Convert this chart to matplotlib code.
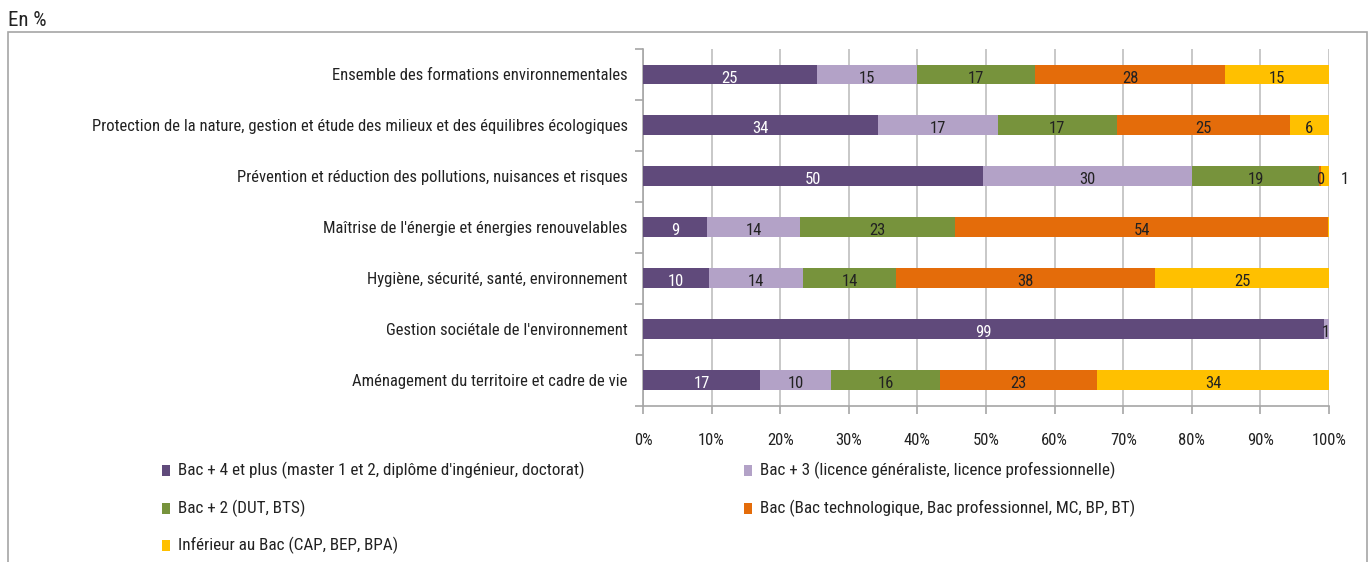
import matplotlib
matplotlib.use("Agg")
import matplotlib.pyplot as plt
from matplotlib import font_manager
from matplotlib.patches import Rectangle
import numpy as np

# the original uses a narrow font: take a condensed family if one is installed
names = {f.name for f in font_manager.fontManager.ttflist}
narrow = [n for n in ["Roboto Condensed", "Liberation Sans Narrow", "Open Sans Condensed",
                      "DejaVu Sans Condensed", "Noto Sans Condensed"] if n in names]
if narrow:
    plt.rcParams["font.family"] = [narrow[0], "DejaVu Sans"]
    FS = 12
else:
    plt.rcParams["font.family"] = ["DejaVu Sans"]
    FS = 10

# ---- Data (shares in %) ----
categories = [
    "Ensemble des formations environnementales",
    "Protection de la nature, gestion et étude des milieux et des équilibres écologiques",
    "Prévention et réduction des pollutions, nuisances et risques",
    "Maîtrise de l'énergie et énergies renouvelables",
    "Hygiène, sécurité, santé, environnement",
    "Gestion sociétale de l'environnement",
    "Aménagement du territoire et cadre de vie",
]
bac4 = [25.3, 34.3, 49.6, 9.3, 9.6, 99.2, 17.1]
bac3 = [14.7, 17.4, 30.4, 13.6, 13.7, 0.8, 10.3]
bac2 = [17.2, 17.4, 18.6, 22.6, 13.6, 0.0, 15.9]
bac = [27.7, 25.2, 0.3, 54.4, 37.8, 0.0, 22.9]
infbac = [15.1, 5.7, 1.1, 0.1, 25.3, 0.0, 33.8]

series_names = [
    "Bac + 4 et plus (master 1 et 2, diplôme d'ingénieur, doctorat)",
    "Bac + 3 (licence généraliste, licence professionnelle)",
    "Bac + 2 (DUT, BTS)",
    "Bac (Bac technologique, Bac professionnel, MC, BP, BT)",
    "Inférieur au Bac (CAP, BEP, BPA)",
]
xticks = list(range(0, 101, 10))
xtick_labels = [f"{t}%" for t in xticks]

colors = ["#604A7B", "#B3A2C7", "#77933C", "#E46C0A", "#FFC000"]
label_colors = ["white", "#222222", "#222222", "#222222", "#222222"]
GRID = "#BFBFBF"

W, H = 1371, 562
fig = plt.figure(figsize=(W / 100, H / 100), dpi=100)

# outer frame and unit label
fig.patches.append(Rectangle((8 / W, -0.05), (1367 - 8) / W, 1.05 - 32 / H,
                             transform=fig.transFigure, fill=False,
                             edgecolor="#A6A6A6", linewidth=1.2))
fig.text(8 / W, 1 - 20 / H, "En %", fontsize=FS + 3, ha="left", va="center", color="#222222")

ax = fig.add_axes([643 / W, 1 - 405.5 / H, (1329 - 643) / W, (405.5 - 49) / H])

all_series = [bac4, bac3, bac2, bac, infbac]
y = np.arange(len(categories))
left = np.zeros(len(categories))
for vals, col, lcol in zip(all_series, colors, label_colors):
    vals = np.array(vals)
    ax.barh(y, vals, left=left, height=0.39, color=col, zorder=3)
    for yi, (l, v) in enumerate(zip(left, vals)):
        if v < 0.2:
            continue
        xpos = l + v / 2
        # tiny last segment of row 3: label pushed outside the bar
        if yi == 2 and col == colors[4]:
            xpos = 102.3
        ax.text(xpos, yi + 0.07, f"{v:.0f}", ha="center", va="center",
                fontsize=FS, color=lcol, zorder=4, clip_on=False)
    left += vals

ax.set_xlim(0, 100)
ax.set_ylim(len(categories) - 0.5, -0.5)
ax.set_xticks(xticks)
ax.set_xticklabels(xtick_labels, fontsize=FS, color="#222222")
ax.set_yticks(y)
ax.set_yticklabels(categories, fontsize=FS, color="#222222")
ax.set_yticks(np.arange(-0.5, len(categories), 1), minor=True)

ax.xaxis.grid(True, color=GRID, linewidth=1.2, zorder=0)
ax.set_axisbelow(True)
ax.tick_params(axis="y", which="major", length=0, pad=11)
ax.tick_params(axis="y", which="minor", length=6, color="#A6A6A6", width=1.2)
ax.tick_params(axis="x", length=6, color="#A6A6A6", width=1.2, pad=14)

for side in ["top", "right"]:
    ax.spines[side].set_visible(False)
for side in ["left", "bottom"]:
    ax.spines[side].set_color("#A6A6A6")
    ax.spines[side].set_linewidth(1.2)

# legend laid out in two columns like the original
legend_pos = [(162, 470), (744, 470), (162, 508), (744, 508), (162, 545)]
for (px, py), name, col in zip(legend_pos, series_names, colors):
    fig.patches.append(Rectangle((px / W, 1 - (py + 6) / H), 8 / W, 11 / H,
                                 transform=fig.transFigure, facecolor=col, edgecolor="none"))
    fig.text((px + 16) / W, 1 - py / H, name, fontsize=FS + 0.3, ha="left", va="center",
             color="#222222")

fig.savefig("out.png", dpi=100)
